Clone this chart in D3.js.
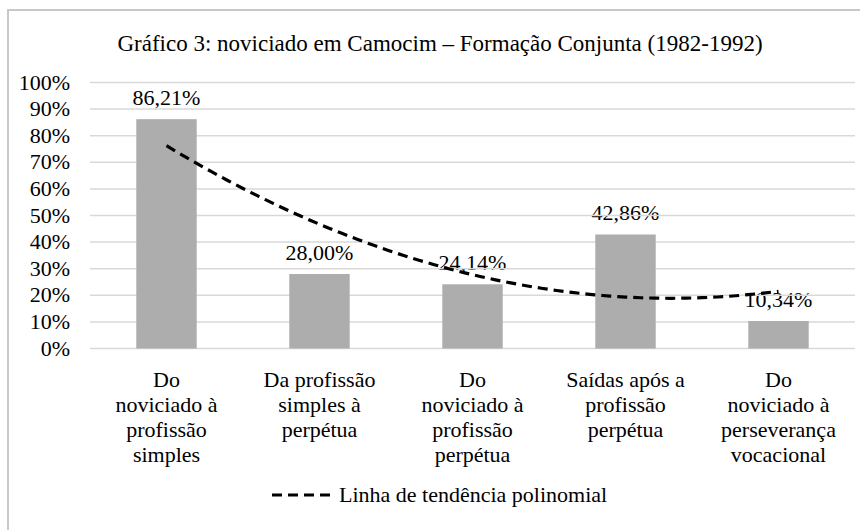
<!DOCTYPE html>
<html>
<head>
<meta charset="utf-8">
<script src="https://cdn.jsdelivr.net/npm/d3@7"></script>
</head>
<body style="margin:0">
<svg id="chart" width="860" height="530"></svg>
<script>
var width = 860, height = 530;
var margin = {top: 82.5, right: 5, bottom: 181.5, left: 90};
var FONT = "'Liberation Serif'";

var title = "Gráfico 3: noviciado em Camocim – Formação Conjunta (1982-1992)";
var categories = [
    ["Do", "noviciado à", "profissão", "simples"],
    ["Da profissão", "simples à", "perpétua"],
    ["Do", "noviciado à", "profissão", "perpétua"],
    ["Saídas após a", "profissão", "perpétua"],
    ["Do", "noviciado à", "perseverança", "vocacional"]
];
var values = [86.21, 28.00, 24.14, 42.86, 10.34];
var valueLabels = ["86,21%", "28,00%", "24,14%", "42,86%", "10,34%"];
var yTicks = [0, 10, 20, 30, 40, 50, 60, 70, 80, 90, 100];
var legendLabel = "Linha de tendência polinomial";

var svg = d3.select("#chart");

var innerW = width - margin.left - margin.right;
var innerH = height - margin.top - margin.bottom;

var x = d3.scaleBand()
    .domain(d3.range(values.length))
    .range([margin.left, margin.left + innerW])
    .paddingInner(0.605)
    .paddingOuter(0.3025);

var y = d3.scaleLinear().domain([0, 100]).range([margin.top + innerH, margin.top]);

// text helper: plain text straight on the svg, centred/right-aligned by measuring
function addText(txt, px, py, size, align) {
    var t = svg.append("text")
        .attr("x", px).attr("y", py)
        .style("font-family", FONT)
        .style("font-size", size + "px")
        .text(txt);
    var w = t.node().getComputedTextLength();
    if (align === "middle") t.attr("x", px - w / 2);
    else if (align === "end") t.attr("x", px - w);
    return t;
}

// texts first
addText(title, 440, 51, 23, "middle");

yTicks.forEach(function (d) {
    addText(d + "%", 70, y(d) + 7, 22, "end");
});

values.forEach(function (d, i) {
    addText(valueLabels[i], x(i) + x.bandwidth() / 2, y(d) - 14, 22, "middle");
});

categories.forEach(function (lines, i) {
    lines.forEach(function (s, j) {
        addText(s, x(i) + x.bandwidth() / 2, y(0) + 38 + j * 25, 22, "middle");
    });
});

addText(legendLabel, 339, 502, 22, "start");

// outer frame (cropped on right and bottom in the original)
svg.append("rect")
    .attr("x", 8).attr("y", 10)
    .attr("width", 900).attr("height", 600)
    .attr("fill", "none")
    .attr("stroke", "#c8c8c8")
    .attr("stroke-width", 2);

// gridlines
svg.selectAll(".grid")
    .data(yTicks)
    .enter().append("line")
    .attr("x1", margin.left).attr("x2", margin.left + innerW)
    .attr("y1", function (d) { return y(d); })
    .attr("y2", function (d) { return y(d); })
    .attr("stroke", "#d9d9d9")
    .attr("stroke-width", 1.5);

// bars
svg.selectAll(".bar")
    .data(values)
    .enter().append("rect")
    .attr("x", function (d, i) { return x(i); })
    .attr("y", function (d) { return y(d); })
    .attr("width", x.bandwidth())
    .attr("height", function (d) { return y(0) - y(d); })
    .attr("fill", "#adadad");

// polynomial trend line (order 2 least squares on the bar values)
function quadFit(ys) {
    var n = ys.length, xs = d3.range(1, n + 1);
    var mx = d3.mean(xs), my = d3.mean(ys);
    var p1 = xs.map(function (v) { return v - mx; });
    var c = d3.mean(p1.map(function (v) { return v * v; }));
    var p2 = p1.map(function (v) { return v * v - c; });
    var b1 = d3.sum(p1.map(function (v, i) { return v * ys[i]; })) / d3.sum(p1.map(function (v) { return v * v; }));
    var b2 = d3.sum(p2.map(function (v, i) { return v * ys[i]; })) / d3.sum(p2.map(function (v) { return v * v; }));
    return function (t) { var a = t - mx; return my + b1 * a + b2 * (a * a - c); };
}
var fit = quadFit(values);
var trend = d3.range(0, values.length - 1 + 0.001, 0.05);
var line = d3.line()
    .x(function (t) { return x(0) + x.bandwidth() / 2 + t * x.step(); })
    .y(function (t) { return y(fit(t + 1)); });
svg.append("path")
    .datum(trend)
    .attr("d", line)
    .attr("fill", "none")
    .attr("stroke", "#000")
    .attr("stroke-width", 3.2)
    .attr("stroke-dasharray", "10,6");

// legend sample
svg.append("line")
    .attr("x1", 272).attr("x2", 336)
    .attr("y1", 495).attr("y2", 495)
    .attr("stroke", "#000")
    .attr("stroke-width", 3.2)
    .attr("stroke-dasharray", "10,6");
</script>
</body>
</html>
